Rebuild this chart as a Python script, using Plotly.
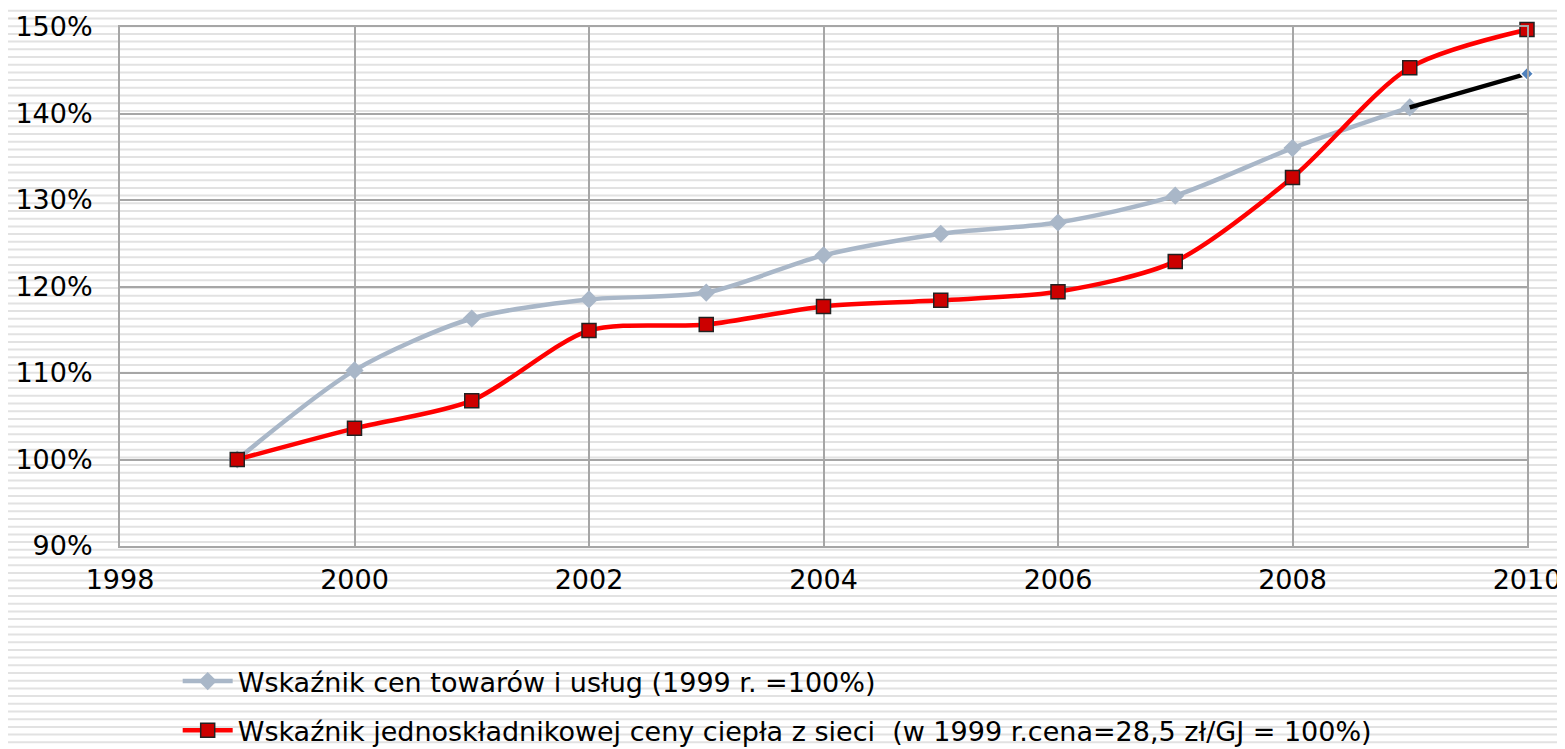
import plotly.graph_objects as go

years = [1999, 2000, 2001, 2002, 2003, 2004, 2005, 2006, 2007, 2008, 2009, 2010]
cpi = [100.0, 110.3, 116.3, 118.5, 119.3, 123.6, 126.1, 127.4, 130.5, 136.0, 140.7, 144.6]
heat = [100.0, 103.6, 106.8, 114.9, 115.6, 117.7, 118.4, 119.4, 122.9, 132.6, 145.3, 149.7]
name_cpi = "Wskaźnik cen towarów i usług (1999 r. =100%)"
name_heat = "Wskaźnik jednoskładnikowej ceny ciepła z sieci  (w 1999 r.cena=28,5 zł/GJ = 100%)"

# page body has an 8px margin; compensate so the plot lands where the reference has it
W, H = 1565, 741
ML, MR, MT, MB = 112, 46, 19, 203
PH = H - MT - MB
PW = W - ML - MR

fig = go.Figure()
fig.add_trace(go.Scatter(
    x=years[:-1], y=cpi[:-1], name=name_cpi, mode="lines+markers",
    line=dict(color="#a9b7c8", width=4.5, shape="spline", smoothing=0.8),
    marker=dict(symbol="diamond", size=14, color="#a9b7c8"),
    legendgroup="a", cliponaxis=False))
fig.add_trace(go.Scatter(
    x=years[-2:], y=cpi[-2:], mode="lines", showlegend=False,
    line=dict(color="#000000", width=4.5), hoverinfo="skip", cliponaxis=False))
fig.add_trace(go.Scatter(
    x=years[-1:], y=cpi[-1:], mode="markers", showlegend=False,
    marker=dict(symbol="diamond", size=10, color="#4f81bd", line=dict(color="white", width=1.5)),
    cliponaxis=False))
fig.add_trace(go.Scatter(
    x=years, y=heat, name=name_heat, mode="lines+markers",
    line=dict(color="#ff0000", width=4.5, shape="spline", smoothing=0.8),
    marker=dict(symbol="square", size=14, color="#cc0000", line=dict(color="#222222", width=1.5)),
    legendgroup="b", cliponaxis=False))

# striped background
shapes = []
py = 3.1 - 7.7
while py < H + 8:
    yp = (H - MB - (py - 8)) / PH
    shapes.append(dict(type="line", xref="paper", yref="paper",
                       x0=-ML / PW, x1=(W - ML) / PW,
                       y0=yp, y1=yp, line=dict(color="#e2e2e2", width=2), layer="below"))
    py += 7.7

fig.update_layout(
    width=W, height=H,
    margin=dict(l=ML, r=MR, t=MT, b=MB, autoexpand=False),
    paper_bgcolor="white", plot_bgcolor="rgba(0,0,0,0)",
    font=dict(family="DejaVu Sans, Verdana, sans-serif", size=27, color="#000000"),
    shapes=shapes,
    showlegend=True,
    legend=dict(x=0.041, y=-0.214, xanchor="left", yanchor="top",
                bgcolor="rgba(0,0,0,0)", traceorder="grouped", tracegroupgap=11,
                itemwidth=50, font=dict(size=27)),
    xaxis=dict(range=[1998, 2010], dtick=2, tick0=1998, showgrid=True, automargin=False,
               gridcolor="#a6a6a6", gridwidth=2, showline=True, linecolor="#a6a6a6",
               linewidth=2, mirror=True, zeroline=False, ticks="", ticklabelstandoff=9),
    yaxis=dict(range=[90, 150], dtick=10, tick0=90, ticksuffix="%", showgrid=True, automargin=False,
               gridcolor="#a6a6a6", gridwidth=2, showline=True, linecolor="#a6a6a6",
               linewidth=2, mirror=True, zeroline=False, ticks="", ticklabelstandoff=20),
)

fig.write_html("out.html")
